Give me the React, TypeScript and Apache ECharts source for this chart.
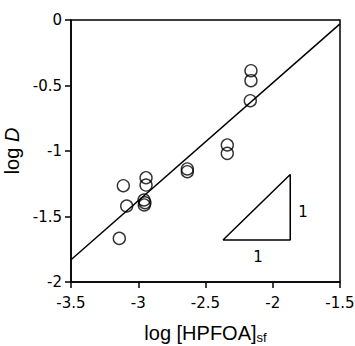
import React, { useEffect, useRef } from "react";
import * as echarts from "echarts";

const xTicks = [-3.5, -3, -2.5, -2, -1.5];
const yTicks = [0, -0.5, -1, -1.5, -2];

const pointsX = [-3.141, -3.111, -3.086, -2.942, -2.942, -2.957, -2.955, -2.950, -2.635, -2.635, -2.162, -2.162, -2.167, -2.338, -2.338];
const pointsY = [-1.667, -1.265, -1.420, -1.204, -1.260, -1.374, -1.412, -1.395, -1.137, -1.158, -0.387, -0.463, -0.616, -0.954, -1.018];

const fitX = [-3.5, -1.5];
const fitY = [-1.83, -0.03];

const triX = [-2.37, -1.87, -1.87, -2.37];
const triY = [-1.68, -1.68, -1.18, -1.68];

const slopeLabelX = [-2.11, -1.775];
const slopeLabelY = [-1.81, -1.463];
const slopeLabels = ["1", "1"];

const FONT = "Liberation Sans";
const TICK_FONT = "DejaVu Sans";

export default function App() {
  const ref = useRef<HTMLDivElement>(null);
  useEffect(() => {
    if (!ref.current) return;
    const chart = echarts.init(ref.current, null, { renderer: "svg" });
    chart.setOption({
      animation: false,
      backgroundColor: "#fff",
      grid: {
        left: 71,
        top: 20,
        width: 269,
        height: 262,
        show: true,
        borderColor: "#000",
        borderWidth: 1.5,
        containLabel: false,
        outerBoundsMode: "none",
      },
      xAxis: {
        type: "value",
        min: -3.5,
        max: -1.5,
        interval: 0.5,
        name: "{n|log [HPFOA]}{s|sf}",
        nameLocation: "middle",
        nameGap: 40,
        nameTextStyle: {
          rich: {
            n: { fontFamily: FONT, fontSize: 20, color: "#000", lineHeight: 22 },
            s: { fontFamily: FONT, fontSize: 13, color: "#000", lineHeight: 13, padding: [9, 0, 0, 0] },
          },
        },
        axisLine: { onZero: false, lineStyle: { color: "#000", width: 1.5 } },
        axisTick: { show: true, length: 6, lineStyle: { color: "#000", width: 1.5 } },
        axisLabel: {
          color: "#000",
          fontFamily: TICK_FONT,
          fontSize: 15,
          margin: 13,
          formatter: (v: number) => {
            const t = xTicks.find((x) => Math.abs(x - v) < 1e-6);
            return t === undefined ? "" : String(t);
          },
        },
        splitLine: { show: false },
      },
      yAxis: {
        type: "value",
        min: -2,
        max: 0,
        interval: 0.5,
        name: "{n|log }{i|D}",
        nameLocation: "middle",
        nameGap: 35,
        nameRotate: 90,
        nameTextStyle: {
          rich: {
            n: { fontFamily: FONT, fontSize: 20, color: "#000" },
            i: { fontFamily: FONT, fontSize: 20, color: "#000", fontStyle: "italic" },
          },
        },
        axisLine: { onZero: false, lineStyle: { color: "#000", width: 1.5 } },
        axisTick: { show: true, length: 6, lineStyle: { color: "#000", width: 1.5 } },
        axisLabel: {
          color: "#000",
          fontFamily: TICK_FONT,
          fontSize: 15,
          margin: 9,
          formatter: (v: number) => {
            const t = yTicks.find((y) => Math.abs(y - v) < 1e-6);
            return t === undefined ? "" : String(t);
          },
        },
        splitLine: { show: false },
      },
      series: [
        {
          type: "line",
          data: fitX.map((x, i) => [x, fitY[i]]),
          symbol: "none",
          lineStyle: { color: "#000", width: 1.5 },
          silent: true,
        },
        {
          type: "line",
          data: triX.map((x, i) => [x, triY[i]]),
          symbol: "none",
          lineStyle: { color: "#000", width: 1.5 },
          silent: true,
        },
        {
          type: "scatter",
          data: pointsX.map((x, i) => [x, pointsY[i]]),
          symbol: "circle",
          symbolSize: 12,
          itemStyle: { color: "rgba(255,255,255,0)", borderColor: "#000", borderWidth: 1.4 },
        },
        {
          type: "scatter",
          data: slopeLabelX.map((x, i) => [x, slopeLabelY[i], slopeLabels[i]]),
          symbolSize: 1,
          itemStyle: { color: "#000", opacity: 0 },
          label: {
            show: true,
            position: "top",
            distance: -8,
            formatter: (p: any) => p.data[2],
            color: "#000",
            opacity: 1,
            textBorderWidth: 0,
            textBorderColor: "transparent",
            fontFamily: TICK_FONT,
            fontSize: 15,
          },
        },
      ],
    });
    return () => chart.dispose();
  }, []);
  return (
    <div
      ref={ref}
      style={{ position: "fixed", left: 0, top: 0, width: 355, height: 346 }}
    />
  );
}
